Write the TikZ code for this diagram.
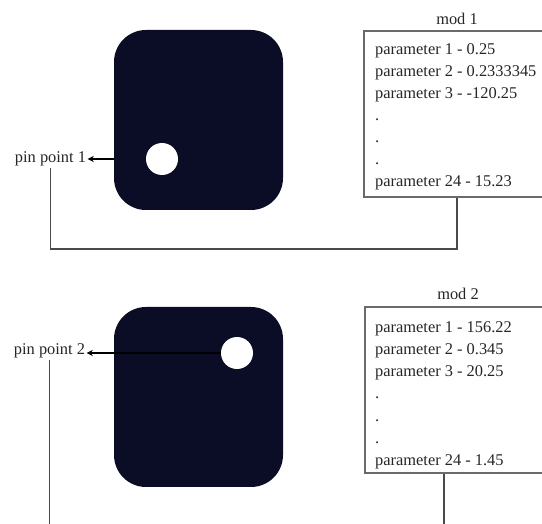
\documentclass[tikz,border=0pt]{standalone}
\usepackage{fontspec}
\setmainfont{Liberation Serif}
\usetikzlibrary{arrows.meta}
\definecolor{tilecol}{HTML}{0B0D26}
\definecolor{ink}{HTML}{262626}
\definecolor{wire}{HTML}{4A4A4A}
\definecolor{frame}{HTML}{6A6A6A}
\begin{document}
\begin{tikzpicture}[x=1pt,y=-1pt,
  font=\fontsize{16.4}{20}\selectfont,
  tile/.style={fill=tilecol, rounded corners=32pt, minimum width=169pt,
    minimum height=180pt, inner sep=0pt},
  hole/.style={circle, fill=white, minimum size=32pt, inner sep=0pt},
  pintext/.style={text=ink, inner sep=1.5pt},
  pinarrow/.style={draw=black, line width=1.2pt, -{Stealth[length=6pt,width=6pt]}},
  parambox/.style={draw=frame, line width=1.2pt, minimum width=186pt,
    minimum height=166pt, inner sep=0pt},
  boxtitle/.style={text=ink, inner sep=0pt},
  param/.style={text=ink, inner sep=0pt},
  wireline/.style={draw=wire, line width=1.5pt}]
\useasboundingbox (0,0) rectangle (542,524);

% ---------- module 1 ----------
\node[tile] (tile1) at (198.5,120) {};
\node[hole] (hole1) at (162,159) {};
\node[pintext, anchor=base] (pin1) at (50.5,163) {pin point 1};
\draw[pinarrow] (tile1.west |- hole1) -- (pin1.east |- hole1);

\node[parambox] (mod1) at (457,114) {};
\node[boxtitle, anchor=base] (title1) at (457,25) {mod 1};
\foreach \t [count=\i] in {parameter 1 - 0.25, parameter 2 - 0.2333345,
    parameter 3 - -120.25, ., ., ., parameter 24 - 15.23}
  \node[param, anchor=base west] (pa\i) at (375,33+22*\i) {\t};

\coordinate (low1) at (0,249);
\draw[wireline] (pin1.south) |- (low1 -| mod1.south) -- (mod1.south);

% ---------- module 2 ----------
\node[tile] (tile2) at (198.5,397) {};
\node[hole] (hole2) at (237,353) {};
\node[pintext, anchor=base] (pin2) at (49.5,355) {pin point 2};
\draw[pinarrow] (hole2.west) -- (pin2.east |- hole2);

\node[parambox] (mod2) at (458,390) {};
\node[boxtitle, anchor=base] (title2) at (458,300) {mod 2};
\foreach \t [count=\i] in {parameter 1 - 156.22, parameter 2 - 0.345,
    parameter 3 - 20.25, ., ., ., parameter 24 - 1.45}
  \node[param, anchor=base west] (pb\i) at (375,311+22*\i) {\t};

\coordinate (foot1) at (50,524);
\coordinate (foot2) at (444,524);
\draw[wireline] (pin2.south) -- (pin2.south |- foot1);
\draw[wireline] (foot2 |- mod2.south) -- (foot2);
\end{tikzpicture}
\end{document}
